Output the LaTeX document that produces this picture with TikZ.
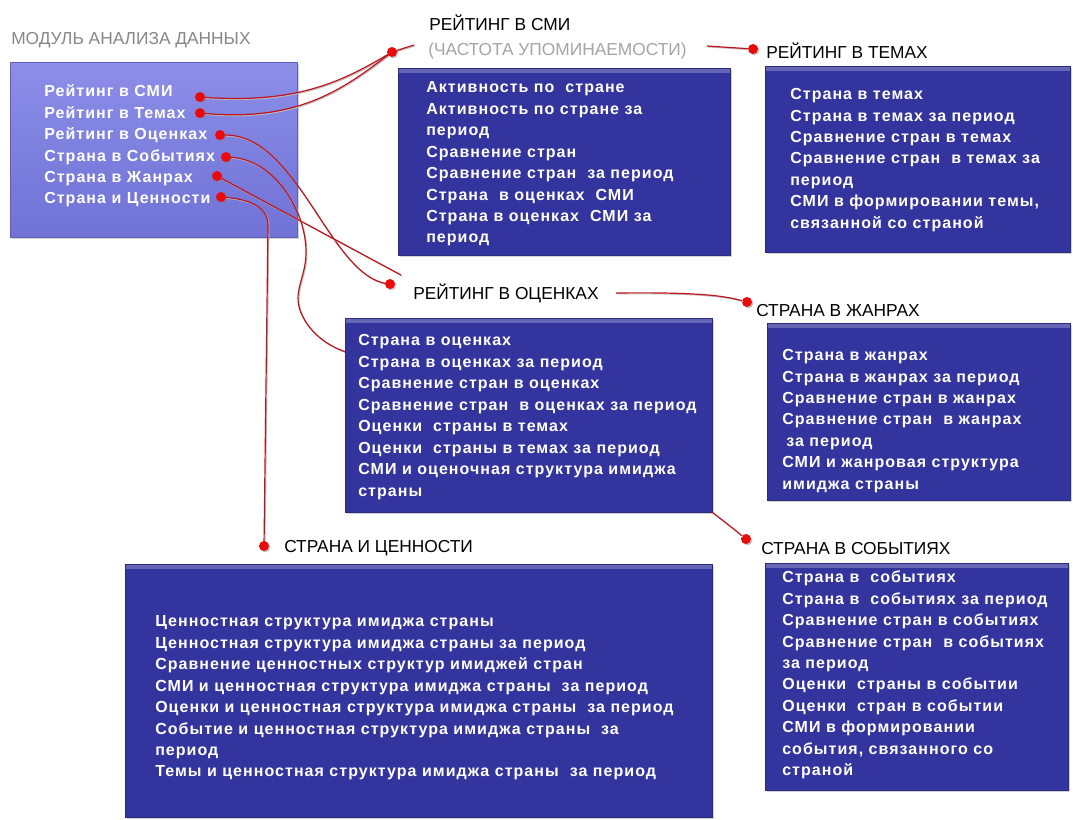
\documentclass[tikz,border=0pt]{standalone}
\usepackage{fontspec}
\setmainfont{Liberation Sans}
\newfontfamily\boxfont{Liberation Sans}[LetterSpace=6.5]
\usetikzlibrary{shadows,fit}
\definecolor{boxblue}{RGB}{52,52,158}
\definecolor{lighttop}{RGB}{140,142,232}
\definecolor{lightbot}{RGB}{112,114,214}
\definecolor{linered}{RGB}{190,20,30}
\definecolor{dotred}{RGB}{235,10,10}
\definecolor{headgray}{RGB}{135,135,135}
\definecolor{subgray}{RGB}{165,165,165}
\begin{document}
\begin{tikzpicture}[x=0.75pt,y=-0.75pt,
  darkbox/.style={fill=boxblue, draw=boxblue!80!black, line width=0.4pt, inner sep=0pt,
    drop shadow={shadow xshift=1.5pt,shadow yshift=-1.5pt,opacity=0.35},
    path picture={\shade[top color=boxblue!75!white, bottom color=boxblue]
      (path picture bounding box.north west) rectangle ([yshift=-3pt]path picture bounding box.north east);}},
  lightbox/.style={top color=lighttop, bottom color=lightbot, draw=lightbot!85!black, line width=0.4pt, inner sep=0pt,
    drop shadow={shadow xshift=1.5pt,shadow yshift=-1.5pt,opacity=0.35}},
  btext/.style={font=\boxfont\bfseries\fontsize{12}{16.1}\selectfont, text=white, align=left, inner sep=0pt, anchor=west},
  head/.style={font=\fontsize{13}{15}\selectfont, inner sep=0pt, anchor=base west},
  dot/.style={circle, fill=dotred, inner sep=0pt, minimum size=7.5pt,
    drop shadow={shadow xshift=1pt,shadow yshift=-1pt,opacity=0.45}},
  conn/.style={draw=linered, line width=0.9pt,
    preaction={draw=black!25, line width=0.8pt, transform canvas={shift={(0.7pt,-0.7pt)}}}},
]
\fill[white] (0,0) rectangle (1073,819);
\useasboundingbox (0,0) rectangle (1073,819);

% left module box
\node[lightbox, fit={(10,62) (297,237)}] (b1) {};

% connector end points
\coordinate (cA1) at (414,45);
\coordinate (cA2) at (707,46);
\coordinate (cC1) at (401,275);
\coordinate (cC2) at (616,293);
\coordinate (cB1) at (346,352);

% dots
\node[dot] (p1) at (200,97) {};
\node[dot] (p2) at (200,113) {};
\node[dot] (p3) at (220,135) {};
\node[dot] (p4) at (226,157) {};
\node[dot] (p5) at (217,176) {};
\node[dot] (p6) at (221,197) {};

% connectors
\draw[conn] (p1) .. controls (300,104) and (345,80) .. (392,52);
\draw[conn] (p2) .. controls (300,122) and (345,88) .. (392,52) -- (cA1);
\draw[conn] (p3) .. controls (300,135) and (330,280) .. (390,284);
\draw[conn] (p5) -- (cC1);
\draw[conn] (p4) .. controls (275,160) and (305,210) .. (306,250)
   .. controls (307,275) and (293,290) .. (300,310)
   .. controls (307,330) and (325,345) .. (cB1);
\draw[conn] (p6) .. controls (245,199) and (268,205) .. (268,225) -- (264,546);

% boxes
\node[darkbox, fit={(398,68) (730,255)}] (b2) {};
\node[darkbox, fit={(765,66) (1070,252)}] (b3) {};
\node[darkbox, fit={(345,318) (712,512)}] (b4) {};
\node[darkbox, fit={(767,323) (1070,500)}] (b5) {};
\node[darkbox, fit={(125,564) (712,817)}] (b6) {};
\node[darkbox, fit={(765,563) (1068,790)}] (b7) {};

% second-level connectors
\node[dot] (qA) at (392,52) {};
\node[dot] (qB) at (753,49) {};
\node[dot] (qC) at (390,284) {};
\node[dot] (qD) at (747,302) {};
\node[dot] (qE) at (264,546) {};
\node[dot] (qF) at (746,539) {};
\draw[conn] (cA2) -- (qB);
\draw[conn] (cC2) .. controls (700,292) and (725,296) .. (qD);
\draw[conn] (b4.south east) .. controls (725,522) and (735,530) .. (qF);

% headings
\node[head, text=headgray] (h0) at (11,44) {МОДУЛЬ АНАЛИЗА ДАННЫХ};
\node[head] (h1) at (429,30) {РЕЙТИНГ В СМИ};
\node[head, text=subgray] (h1b) at (428,55) {(ЧАСТОТА УПОМИНАЕМОСТИ)};
\node[head] (h2) at (766,58) {РЕЙТИНГ В ТЕМАХ};
\node[head] (h3) at (413,299) {РЕЙТИНГ В ОЦЕНКАХ};
\node[head] (h4) at (756,316) {СТРАНА В ЖАНРАХ};
\node[head] (h5) at (284,552) {СТРАНА И ЦЕННОСТИ};
\node[head] (h6) at (761,554) {СТРАНА В СОБЫТИЯХ};

% box texts
\node[btext] (t1) at (44,146) {Рейтинг в СМИ\\Рейтинг в Темах\\Рейтинг в Оценках\\Страна в Событиях\\Страна в Жанрах\\Страна и Ценности};
\node[btext] (t2) at (426,164) {Активность по~ стране\\Активность по стране за\\период\\Сравнение стран\\Сравнение стран~ за период\\Страна~ в оценках~ СМИ\\Страна в оценках~ СМИ за\\период};
\node[btext] (t3) at (790,160) {Страна в темах\\Страна в темах за период\\Сравнение стран в темах\\Сравнение стран~ в темах за\\период\\СМИ в формировании темы,\\связанной со страной};
\node[btext] (t4) at (358,417) {Страна в оценках\\Страна в оценках за период\\Сравнение стран в оценках\\Сравнение стран~ в оценках за период\\Оценки~ страны в темах\\Оценки~ страны в темах за период\\СМИ и оценочная структура имиджа\\страны};
\node[btext] (t5) at (782,421) {Страна в жанрах\\Страна в жанрах за период\\Сравнение стран в жанрах\\Сравнение стран~ в жанрах\\\hspace{3pt}за период\\СМИ и жанровая структура\\имиджа страны};
\node[btext] (t6) at (155,698) {Ценностная структура имиджа страны\\Ценностная структура имиджа страны за период\\Сравнение ценностных структур имиджей стран\\СМИ и ценностная структура имиджа страны~ за период\\Оценки и ценностная структура имиджа страны~ за период\\Событие и ценностная структура имиджа страны~ за\\период\\Темы и ценностная структура имиджа страны~ за период};
\node[btext] (t7) at (782,675) {Страна в~ событиях\\Страна в~ событиях за период\\Сравнение стран в событиях\\Сравнение стран~ в событиях\\за период\\Оценки~ страны в событии\\Оценки~ стран в событии\\СМИ в формировании\\события, связанного со\\страной};
\end{tikzpicture}
\end{document}
